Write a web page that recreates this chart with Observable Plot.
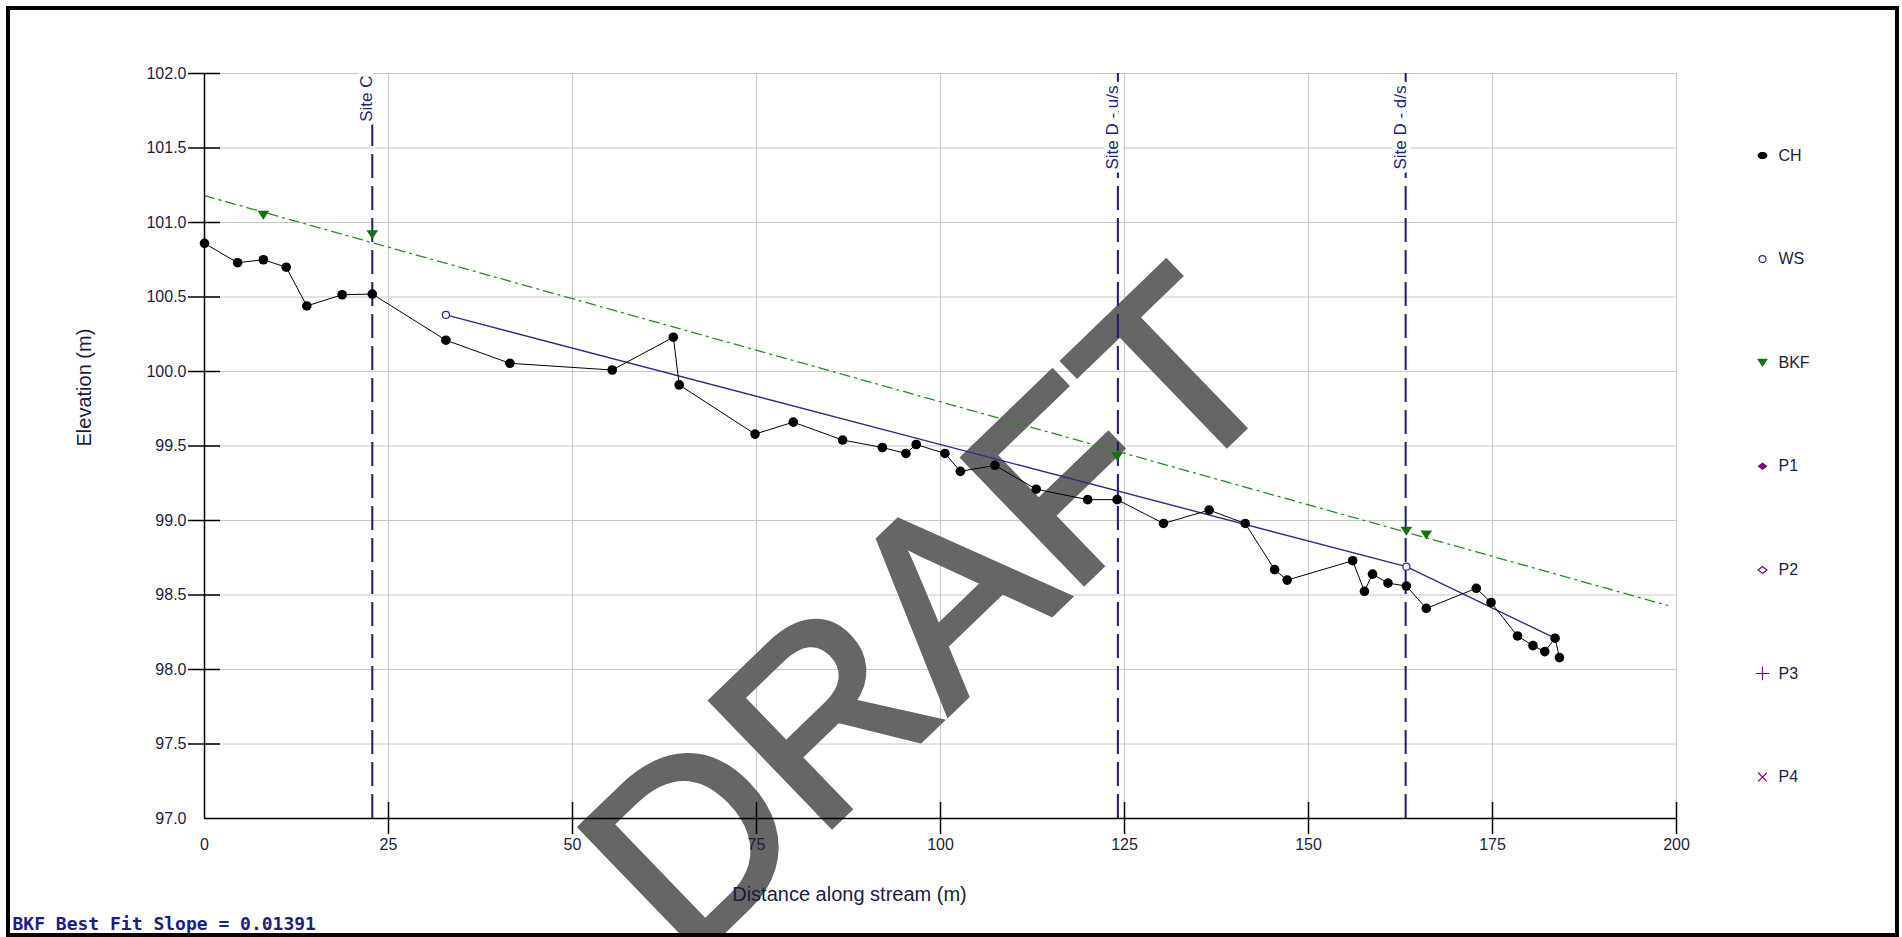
<!DOCTYPE html>
<html><head><meta charset="utf-8">
<script src="https://cdn.jsdelivr.net/npm/d3@7"></script>
<script src="https://cdn.jsdelivr.net/npm/@observablehq/plot@0.6"></script>
<style>
html,body{margin:0;padding:0;background:#fff;}
#wrap{position:relative;width:1902px;height:937px;overflow:hidden;background:#fff;}
#chart svg{display:block;}
#frame{position:absolute;left:6px;top:6px;right:3px;bottom:0;border:4px solid #000;pointer-events:none;}
</style></head>
<body><div id="wrap"><div id="chart"></div><div id="frame"></div></div>
<script>
// ---- data ----
const chX = [0, 4.5, 8.0, 11.1, 13.9, 18.7, 22.8, 32.8, 41.5, 55.4, 63.7, 64.5, 74.8, 80.0, 86.7, 92.1, 95.3, 96.7, 100.6, 102.7, 107.4, 113.0, 120.0, 124.0, 130.3, 136.5, 141.4, 145.4, 147.1, 156.0, 157.6, 158.7, 160.8, 163.3, 166.0, 172.8, 174.8, 178.4, 180.5, 182.1, 183.5, 184.1];
const chY = [100.86, 100.73, 100.75, 100.70, 100.44, 100.515, 100.52, 100.21, 100.055, 100.01, 100.23, 99.91, 99.58, 99.66, 99.54, 99.49, 99.45, 99.51, 99.45, 99.33, 99.37, 99.21, 99.14, 99.14, 98.98, 99.07, 98.98, 98.67, 98.60, 98.73, 98.525, 98.64, 98.58, 98.56, 98.41, 98.545, 98.45, 98.225, 98.16, 98.12, 98.21, 98.08];
const wsX = [32.8, 163.3, 183.5];
const wsY = [100.38, 98.69, 98.21];
const bkfX = [8.0, 22.8, 124.0, 163.3, 166.0];
const bkfY = [101.05, 100.92, 99.43, 98.93, 98.905];
const bkfFitX = [0, 198.8];
const bkfFitY = [101.18, 98.43];
const siteNames = ["Site C", "Site D - u/s", "Site D - d/s"];
const siteX = [22.8, 124.1, 163.2];
const xTicks = [0, 25, 50, 75, 100, 125, 150, 175, 200];
const yTicks = [97.0, 97.5, 98.0, 98.5, 99.0, 99.5, 100.0, 100.5, 101.0, 101.5, 102.0];
const legendNames = ["CH", "WS", "BKF", "P1", "P2", "P3", "P4"];
const xTitle = "Distance along stream (m)";
const yTitle = "Elevation (m)";
const slopeText = "BKF Best Fit Slope = 0.01391";
const watermark = "DRAFT";

// ---- styles ----
const NAVY = "#1c1c68";
const TXT = "#1c1c40";
const GREEN = "#137313";
const PURPLE = "#800080";
const siteLabelOffset = [2, 12, 12]; // px below the plot top for each site label
const downTriangle = {
  draw(ctx, size) {
    const r = Math.sqrt(size / Math.PI);
    ctx.moveTo(-r * 1.3, -r * 0.95);
    ctx.lineTo(r * 1.3, -r * 0.95);
    ctx.lineTo(0, r * 1.05);
    ctx.closePath();
  }
};
const wideDiamond = {
  draw(ctx, size) {
    const r = Math.sqrt(size / Math.PI);
    ctx.moveTo(-r * 1.25, 0);
    ctx.lineTo(0, -r * 0.95);
    ctx.lineTo(r * 1.25, 0);
    ctx.lineTo(0, r * 0.95);
    ctx.closePath();
  }
};
const ellipse = {
  draw(ctx, size) {
    const r = Math.sqrt(size / Math.PI);
    const n = 20;
    for (let k = 0; k < n; ++k) {
      const a = (2 * Math.PI * k) / n;
      const px = Math.cos(a) * r * 1.2, py = Math.sin(a) * r * 0.9;
      if (k === 0) ctx.moveTo(px, py); else ctx.lineTo(px, py);
    }
    ctx.closePath();
  }
};
const legendStyle = {
  CH: {symbol: ellipse, r: 4, fill: "black", stroke: "none"},
  WS: {symbol: "circle", r: 3.5, fill: "white", stroke: "#2b2b88", strokeWidth: 1.2},
  BKF: {symbol: downTriangle, r: 4.2, fill: GREEN, stroke: "none"},
  P1: {symbol: wideDiamond, r: 4, fill: PURPLE, stroke: "none"},
  P2: {symbol: wideDiamond, r: 3.6, fill: "white", stroke: PURPLE, strokeWidth: 1.2},
  P3: {symbol: "plus", r: 4.5, fill: "none", stroke: PURPLE, strokeWidth: 1.2},
  P4: {symbol: "times", r: 4, fill: "none", stroke: PURPLE, strokeWidth: 1.2}
};

const ch = chX.map((x, i) => ({x, y: chY[i]}));
const ws = wsX.map((x, i) => ({x, y: wsY[i]}));
const bkf = bkfX.map((x, i) => ({x, y: bkfY[i]}));
const fit = bkfFitX.map((x, i) => ({x, y: bkfFitY[i]}));

// frame pixel geometry
const W = 1902, H = 937, ML = 204, MR = 226, MT = 73, MB = 119;
const frameRight = W - MR, frameBottom = H - MB;

const legendMarks = legendNames.flatMap((name, i) => {
  const s = legendStyle[name];
  const dy = 155 - MT + i * 103.6;
  return [
    Plot.dot([name], {frameAnchor: "top-right", dx: 1762 - frameRight, dy, ...s}),
    Plot.text([name], {frameAnchor: "top-right", dx: 1778 - frameRight, dy, text: d => d,
      textAnchor: "start", lineAnchor: "middle", fontSize: 16, fill: TXT})
  ];
});

const siteLabelMarks = siteNames.map((name, i) =>
  Plot.text([name], {x: [siteX[i]], frameAnchor: "top", dy: siteLabelOffset[i], text: d => d, rotate: -90,
    textAnchor: "end", lineAnchor: "bottom", fontSize: 17, fill: "#24247a",
    stroke: "white", strokeWidth: 9})
);

const chart = Plot.plot({
  width: W, height: H,
  marginLeft: ML, marginRight: MR, marginTop: MT, marginBottom: MB,
  x: {domain: [0, 200], label: null},
  y: {domain: [97, 102], label: null},
  style: {fontFamily: "'Liberation Sans', Arial, sans-serif", fontSize: "16px", background: "white", overflow: "visible"},
  marks: [
    Plot.gridX(xTicks, {stroke: "#c8c8c8", strokeOpacity: 1, strokeWidth: 1}),
    Plot.gridY(yTicks, {stroke: "#c8c8c8", strokeOpacity: 1, strokeWidth: 1}),
    Plot.text([watermark], {frameAnchor: "top-left", dx: 932 - ML, dy: 616 - MT, text: d => d,
      rotate: -44, fontSize: 252, fill: "#666666", stroke: "#666666", strokeWidth: 6, strokeLinejoin: "miter",
      textAnchor: "middle", lineAnchor: "middle"}),
    Plot.ruleX(siteX, {y1: 97, y2: 102, stroke: NAVY, strokeWidth: 2, strokeDasharray: "24,8"}),
    ...siteLabelMarks,
    Plot.line(fit, {x: "x", y: "y", stroke: "#2a8a2a", strokeWidth: 1.3, strokeDasharray: "10,5,2,5"}),
    Plot.dot(bkf, {x: "x", y: "y", symbol: downTriangle, r: 4.5, fill: GREEN, stroke: "none"}),
    Plot.line(ws, {x: "x", y: "y", stroke: "#2b2b88", strokeWidth: 1.4}),
    Plot.dot(ws, {x: "x", y: "y", r: 3.5, fill: "white", stroke: "#2b2b88", strokeWidth: 1.2}),
    Plot.line(ch, {x: "x", y: "y", stroke: "black", strokeWidth: 1}),
    Plot.dot(ch, {x: "x", y: "y", r: 4.8, fill: "black", stroke: "none"}),
    Plot.ruleX([0], {stroke: "black", strokeWidth: 1.5}),
    Plot.ruleY([97], {stroke: "black", strokeWidth: 1.5}),
    Plot.axisY(yTicks.slice(1), {anchor: "left", tickSize: 32, dx: 16, fill: "none", label: null, stroke: "black", strokeWidth: 1.5}),
    Plot.axisX(xTicks.slice(1), {anchor: "bottom", tickSize: 32, dy: -16, fill: "none", label: null, stroke: "black", strokeWidth: 1.5}),
    Plot.axisY(yTicks, {anchor: "left", tickSize: 0, tickPadding: 18, tickFormat: d3.format(".1f"), label: null, fontSize: 16, fill: TXT}),
    Plot.axisX(xTicks, {anchor: "bottom", tickSize: 0, tickPadding: 20, tickFormat: d => String(d), label: null, fontSize: 16, fill: TXT}),
    Plot.text([xTitle], {frameAnchor: "bottom", dx: 849 - (ML + frameRight) / 2, dy: 894 - frameBottom, text: d => d,
      lineAnchor: "middle", fontSize: 20, fill: TXT}),
    Plot.text([yTitle], {frameAnchor: "left", dx: 84 - ML, dy: 446 - (MT + frameBottom) / 2, text: d => d,
      rotate: -90, lineAnchor: "middle", fontSize: 20, fill: TXT}),
    Plot.text([slopeText], {frameAnchor: "bottom-left", dx: 12 - ML, dy: 924 - frameBottom, text: d => d,
      textAnchor: "start", lineAnchor: "middle", fontFamily: "'DejaVu Sans Mono', monospace", fontWeight: "bold",
      fontSize: 18, fill: "#1c1c8a"}),
    ...legendMarks
  ]
});
document.getElementById("chart").appendChild(chart);
</script>
</body></html>
